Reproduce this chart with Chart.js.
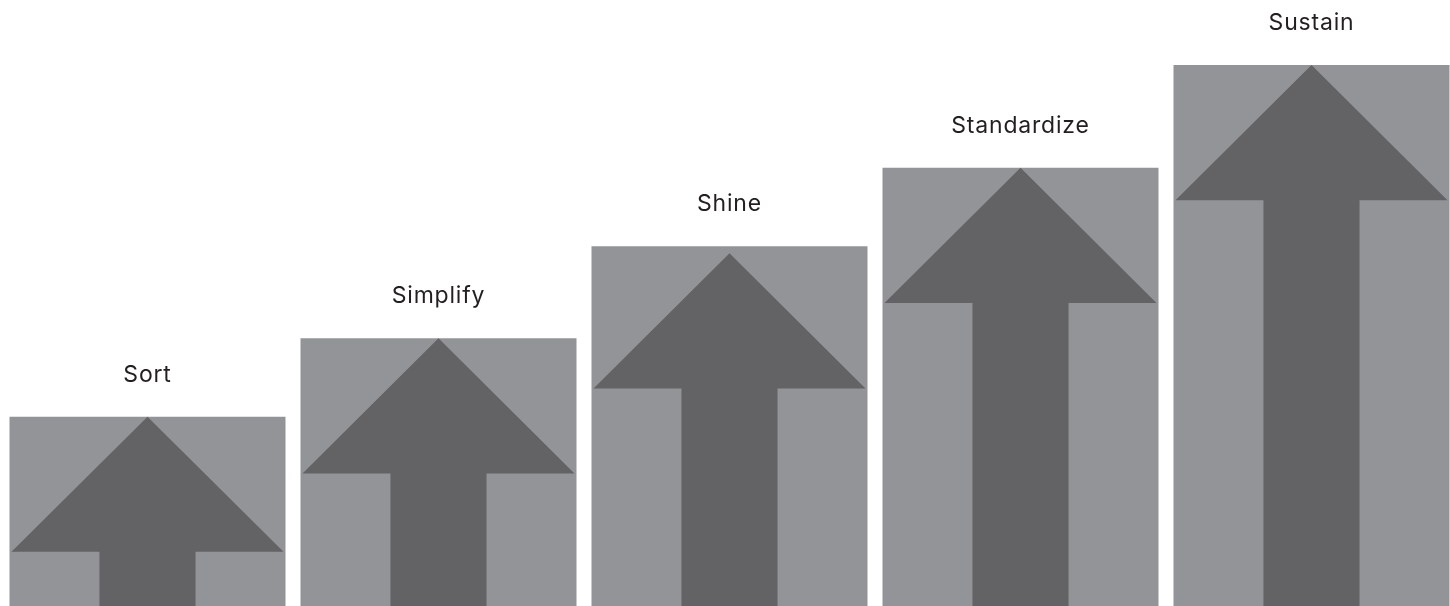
<!DOCTYPE html>
<html>
<head>
<meta charset="utf-8">
<script src="https://cdn.jsdelivr.net/npm/chart.js@4/dist/chart.umd.min.js"></script>
<style>
  html, body { margin: 0; padding: 0; background: #ffffff; overflow: hidden; }
  #wrap { position: absolute; left: 0; top: 0; width: 1457px; height: 606px; }
</style>
</head>
<body>
<div id="wrap"><canvas id="c"></canvas></div>
<script>
const categories = ["Sort", "Simplify", "Shine", "Standardize", "Sustain"];
const stepValues = [35, 49.5, 66.5, 81, 100];
const yMax = 112;

const barColor = "#939497";
const arrowColor = "#636365";
const labelColor = "#231f20";

const arrowPlugin = {
  id: "arrows",
  afterDatasetsDraw(chart, args, opts) {
    const ctx = chart.ctx;
    const meta = chart.getDatasetMeta(0);
    meta.data.forEach((bar, i) => {
      const p = bar.getProps(["x", "y", "base", "width"], true);
      const left = p.x - p.width / 2;
      const right = p.x + p.width / 2;
      const headH = p.width * 0.49;
      const shaftHalf = p.width * 0.174;
      const inset = 2;
      const top = p.y + ((opts.apexDrop || {})[categories[i]] || 0);
      ctx.save();
      ctx.fillStyle = arrowColor;
      ctx.beginPath();
      ctx.moveTo(p.x, top);
      ctx.lineTo(right - inset, top + headH);
      ctx.lineTo(p.x + shaftHalf, top + headH);
      ctx.lineTo(p.x + shaftHalf, p.base);
      ctx.lineTo(p.x - shaftHalf, p.base);
      ctx.lineTo(p.x - shaftHalf, top + headH);
      ctx.lineTo(left + inset, top + headH);
      ctx.closePath();
      ctx.fill();
      ctx.fillStyle = labelColor;
      ctx.font = "23px Inter, sans-serif";
      if ("letterSpacing" in ctx) ctx.letterSpacing = "0.8px";
      ctx.textAlign = "center";
      ctx.textBaseline = "middle";
      ctx.fillText(categories[i], p.x, p.y - 42);
      ctx.restore();
    });
  }
};

new Chart(document.getElementById("c"), {
  type: "bar",
  data: {
    labels: categories,
    datasets: [{
      data: stepValues,
      backgroundColor: barColor,
      borderWidth: 0,
      categoryPercentage: 1.0,
      barPercentage: 0.9485
    }]
  },
  options: {
    responsive: true,
    maintainAspectRatio: false,
    animation: false,
    layout: { padding: { left: 2, right: 0, top: 0, bottom: 0 } },
    plugins: {
      legend: { display: false },
      tooltip: { enabled: false },
      arrows: { apexDrop: { "Shine": 7 } }
    },
    scales: {
      x: { display: false },
      y: { display: false, min: 0, max: yMax }
    }
  },
  plugins: [arrowPlugin]
});
</script>
</body>
</html>
